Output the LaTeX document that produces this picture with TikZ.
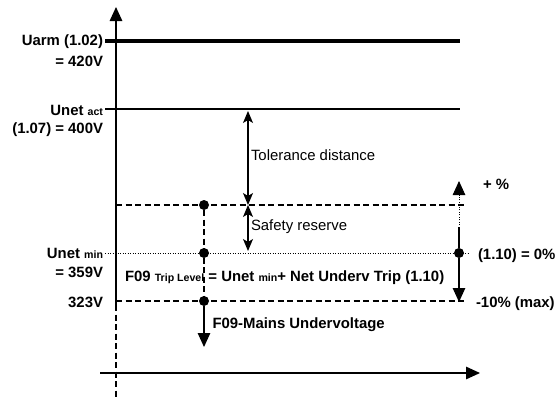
\documentclass[tikz,border=0pt]{standalone}
\usepackage{fontspec}
\setmainfont{Liberation Sans}
\usetikzlibrary{arrows.meta}
\newcommand{\lblfont}{\fontsize{14.9}{18}\selectfont\bfseries}
\newcommand{\idx}[1]{{\fontsize{10.6}{12}\selectfont #1}}
\begin{document}
\begin{tikzpicture}[x=1pt, y=-1pt,
    lab/.style={inner sep=0pt, outer sep=0pt, font=\lblfont},
    note/.style={inner sep=0pt, outer sep=0pt, font=\fontsize{14.9}{18}\selectfont},
    dot/.style={circle, fill, inner sep=0pt, minimum size=10pt},
    axis/.style={line width=1.3pt},
    level/.style={line width=1.2pt},
    dashline/.style={line width=1.2pt, dash pattern=on 6pt off 3.5pt},
    dotline/.style={line width=0.9pt, dash pattern=on 0.9pt off 1.6pt},
    bigtip/.style={-{Triangle[length=14pt,width=12.5pt]}},
    dbltip/.style={{Stealth[length=12pt,width=10pt,inset=3pt]}-{Stealth[length=12pt,width=10pt,inset=3pt]}}]
  \useasboundingbox (0,0) rectangle (557,399);
  % axes
  \coordinate (yo) at (116,305);
  \coordinate (ytop) at (116,7);
  \coordinate (ybot) at (116,399);
  \coordinate (x0) at (100,373);
  \coordinate (x1) at (480,373);
  \draw[axis, bigtip] (yo) -- (ytop);
  \draw[dashline] (yo) -- (ybot);
  \draw[axis, bigtip] (x0) -- (x1);
  % levels
  \coordinate (ua0) at (105,41);
  \coordinate (ua1) at (460,41);
  \coordinate (un0) at (105,109);
  \coordinate (un1) at (460,109);
  \coordinate (sr0) at (116,205);
  \coordinate (sr1) at (467,205);
  \coordinate (um0) at (105,253);
  \coordinate (um1) at (468,253);
  \coordinate (tr0) at (116,301);
  \coordinate (tr1) at (467,301);
  \draw[line width=4pt] (ua0) -- (ua1);
  \draw[level] (un0) -- (un1);
  \draw[dashline] (sr0) -- (sr1);
  \draw[dotline] (um0) -- (um1);
  \draw[dashline] (tr0) -- (tr1);
  % left labels
  \node[lab, anchor=base east] (uarm) at (103,45.5) {Uarm (1.02)};
  \node[lab, anchor=base east] (uarmv) at (103,66) {= 420V};
  \node[lab, anchor=base east] (unact) at (103,115) {Unet \idx{act}};
  \node[lab, anchor=base east] (unactv) at (103,133) {(1.07) = 400V};
  \node[lab, anchor=base east] (unmin) at (103,258) {Unet \idx{min}};
  \node[lab, anchor=base east] (unminv) at (103,277.5) {= 359V};
  \node[lab, anchor=base east] (trv) at (103,307.5) {323V};
  % trip points
  \node[dot] (d1) at (204,205) {};
  \node[dot] (d2) at (204,253) {};
  \node[dot] (d3) at (204,301) {};
  \coordinate (f09end) at (204,347);
  \draw[dashline] (d1) -- (d3);
  \draw[level, bigtip] (d3) -- (f09end);
  \node[lab, anchor=base west] (trip) at (125,281.5)
    {F09 \idx{Trip Level} = Unet \idx{min}+ Net Underv Trip (1.10)};
  \node[lab, anchor=base west] (mains) at (212.5,328) {F09-Mains Undervoltage};
  % distances
  \coordinate (t0) at (248,111);
  \coordinate (t1) at (248,205);
  \coordinate (s1) at (248,251);
  \draw[level, dbltip] (t0) -- (t1);
  \draw[level, dbltip] (t1) -- (s1);
  \node[note, anchor=base west] (tol) at (251,160.5) {Tolerance distance};
  \node[note, anchor=base west] (safe) at (251,230.5) {Safety reserve};
  % setting range
  \node[dot] (d4) at (459,253) {};
  \coordinate (pup) at (459,181);
  \coordinate (rs) at (459,227);
  \coordinate (rdown) at (459,302);
  \draw[dotline, bigtip] (d4) -- (pup);
  \draw[level] (rs) -- (d4);
  \draw[level, bigtip] (d4) -- (rdown);
  \node[lab, anchor=base west] (plus) at (483,189.5) {+ \%};
  \node[lab, anchor=base west] (zero) at (478,259.5) {(1.10) = 0\%};
  \node[lab, anchor=base west] (minus) at (476,307.5) {-10\% (max)};
\end{tikzpicture}
\end{document}
